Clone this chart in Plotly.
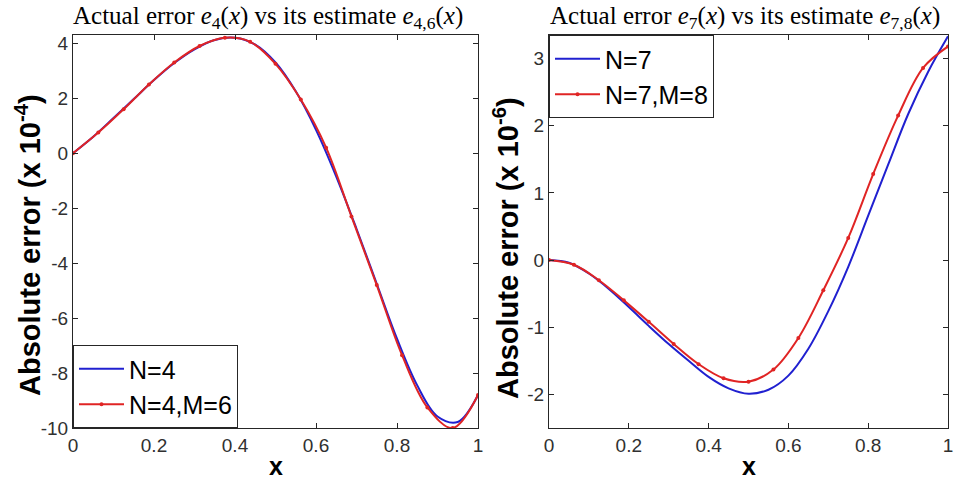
import plotly.graph_objects as go

# ---- data ----
x_blue = [i / 20 for i in range(21)]
x_red = [i / 16 for i in range(17)]

# left panel: e_4(x) and estimate e_{4,6}(x), units of 1e-4
e4_blue = [0, 0.6, 1.28, 1.97, 2.66, 3.28, 3.78, 4.12, 4.2, 3.95, 3.3,
           2.25, 0.85, -0.85, -2.75, -4.75, -6.75, -8.45, -9.58, -9.78, -8.8]
e46_red = [0, 0.75, 1.6, 2.5, 3.3, 3.9, 4.2, 4.05, 3.25, 1.95, 0.2,
           -2.3, -4.8, -7.35, -9.25, -10.0, -8.8]

# right panel: e_7(x) and estimate e_{7,8}(x), units of 1e-6
e7_blue = [0, -0.04, -0.20, -0.43, -0.70, -0.98, -1.25, -1.50, -1.74, -1.91, -1.99,
           -1.93, -1.72, -1.32, -0.76, -0.10, 0.66, 1.42, 2.17, 2.80, 3.33]
e78_red = [0, -0.07, -0.30, -0.60, -0.92, -1.25, -1.55, -1.76, -1.81, -1.63, -1.16,
           -0.45, 0.33, 1.28, 2.15, 2.86, 3.18]

x_ticks = [0, 0.2, 0.4, 0.6, 0.8, 1]
x_ticklabels = ["0", "0.2", "0.4", "0.6", "0.8", "1"]
left_yticks = [-10, -8, -6, -4, -2, 0, 2, 4]
left_yticklabels = ["-10", "-8", "-6", "-4", "-2", "0", "2", "4"]
right_yticks = [-2, -1, 0, 1, 2, 3]
right_yticklabels = ["-2", "-1", "0", "1", "2", "3"]

BLUE = "#2020d0"
RED = "#e02424"
AX = "#262626"

W, H = 955, 483


def px(xs):
    return xs / W


def py(ys):
    return 1 - ys / H


fig = go.Figure()
fig.add_trace(go.Scatter(x=x_blue, y=e4_blue, mode="lines", name="N=4",
                         line=dict(color=BLUE, width=2, shape="spline"),
                         xaxis="x", yaxis="y", legend="legend"))
fig.add_trace(go.Scatter(x=x_red, y=e46_red, mode="lines+markers", name="N=4,M=6",
                         line=dict(color=RED, width=2, shape="spline"),
                         marker=dict(color=RED, size=4),
                         xaxis="x", yaxis="y", legend="legend"))
fig.add_trace(go.Scatter(x=x_blue, y=e7_blue, mode="lines", name="N=7",
                         line=dict(color=BLUE, width=2, shape="spline"),
                         xaxis="x2", yaxis="y2", legend="legend2"))
fig.add_trace(go.Scatter(x=x_red, y=e78_red, mode="lines+markers", name="N=7,M=8",
                         line=dict(color=RED, width=2, shape="spline"),
                         marker=dict(color=RED, size=4),
                         xaxis="x2", yaxis="y2", legend="legend2"))

axis_common = dict(showline=True, linecolor=AX, linewidth=1, mirror="ticks",
                   ticks="inside", ticklen=5, tickcolor=AX, showgrid=False,
                   zeroline=False, automargin=False,
                   tickfont=dict(family="Liberation Sans, Arial", size=19, color="#303030"))

ydom = [py(428), py(35)]
legend_font = dict(family="Liberation Sans, Arial", size=25, color="black")
fig.update_layout(
    width=W, height=H, autosize=False,
    margin=dict(l=0, r=0, t=0, b=0, pad=0),
    paper_bgcolor="white", plot_bgcolor="white",
    xaxis=dict(domain=[px(73), px(478)], range=[0, 1], tickvals=x_ticks,
               ticktext=x_ticklabels, anchor="y", **axis_common),
    yaxis=dict(domain=ydom, range=[-10, 4.3], tickvals=left_yticks,
               ticktext=left_yticklabels, anchor="x", **axis_common),
    xaxis2=dict(domain=[px(549), px(948)], range=[0, 1], tickvals=x_ticks,
                ticktext=x_ticklabels, anchor="y2", **axis_common),
    yaxis2=dict(domain=ydom, range=[-2.5, 3.35], tickvals=right_yticks,
                ticktext=right_yticklabels, anchor="x2", **axis_common),
    legend=dict(x=px(73), y=py(428), xanchor="left", yanchor="bottom",
                bgcolor="white", bordercolor=AX, borderwidth=1, font=legend_font,
                itemwidth=45, tracegroupgap=0),
    legend2=dict(x=px(549), y=py(35), xanchor="left", yanchor="top",
                 bgcolor="white", bordercolor=AX, borderwidth=1, font=legend_font,
                 itemwidth=45, tracegroupgap=0),
    showlegend=True,
)

title_font = dict(family="Liberation Serif, DejaVu Serif", size=25, color="black")
label_font = dict(family="Liberation Sans, Arial", size=25, color="black")
ylabel_font = dict(family="Liberation Sans, Arial", size=29, color="black")
annotations = [
    dict(text="Actual error <i>e</i><sub>4</sub>(<i>x</i>) vs its estimate <i>e</i><sub>4,6</sub>(<i>x</i>)",
         x=px(268), y=py(17), xref="paper", yref="paper", showarrow=False,
         xanchor="center", yanchor="middle", font=title_font),
    dict(text="Actual error <i>e</i><sub>7</sub>(<i>x</i>) vs its estimate <i>e</i><sub>7,8</sub>(<i>x</i>)",
         x=px(745), y=py(17), xref="paper", yref="paper", showarrow=False,
         xanchor="center", yanchor="middle", font=title_font),
    dict(text="<b>Absolute error (x 10<sup>-4</sup>)</b>", textangle=-90,
         x=px(28), y=py(245), xref="paper", yref="paper", showarrow=False,
         xanchor="center", yanchor="middle", font=ylabel_font),
    dict(text="<b>Absolute error (x 10<sup>-6</sup>)</b>", textangle=-90,
         x=px(506), y=py(248), xref="paper", yref="paper", showarrow=False,
         xanchor="center", yanchor="middle", font=ylabel_font),
    dict(text="<b>x</b>", x=px(276), y=py(466), xref="paper", yref="paper",
         showarrow=False, xanchor="center", yanchor="middle", font=label_font),
    dict(text="<b>x</b>", x=px(749), y=py(466), xref="paper", yref="paper",
         showarrow=False, xanchor="center", yanchor="middle", font=label_font),
]
fig.update_layout(annotations=annotations)

fig.write_html("out.html", config={"displayModeBar": False},
               post_script="document.body.style.margin='0';document.body.style.overflow='hidden';")
